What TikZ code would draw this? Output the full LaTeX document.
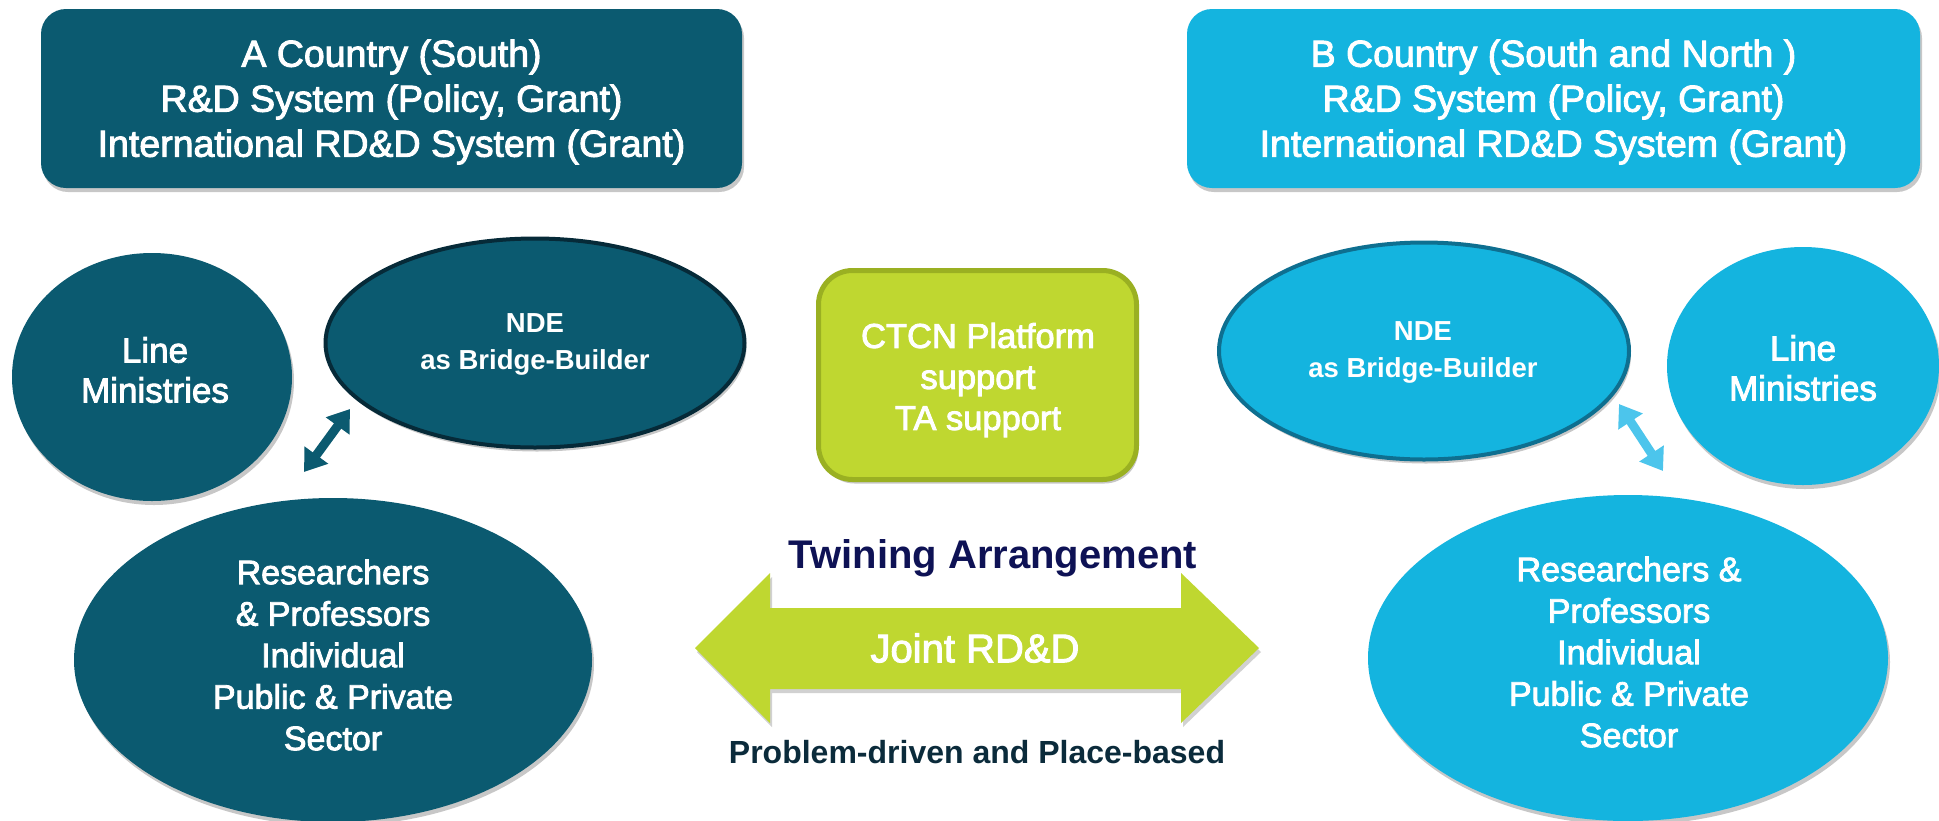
\documentclass[tikz,border=0pt]{standalone}
\usepackage{fontspec}
\setmainfont{Liberation Sans}
\newfontfamily\medfont[FakeBold=2.5]{Liberation Sans}
\usetikzlibrary{arrows.meta,shapes.geometric,shadows}

\definecolor{dteal}{HTML}{0B5A70}
\definecolor{lcyan}{HTML}{14B4DF}
\definecolor{lgreen}{HTML}{BFD730}
\definecolor{dgreen}{HTML}{9AB022}
\definecolor{navy}{HTML}{0E1255}
\definecolor{darktxt}{HTML}{0B2B3B}
\definecolor{ndeA}{HTML}{062A38}
\definecolor{ndeB}{HTML}{0E6F90}
\definecolor{sarrow}{HTML}{4CC5EC}

\begin{document}
\begin{tikzpicture}[x=1pt,y=-1pt,
  shad/.style={drop shadow={shadow xshift=2pt,shadow yshift=-4pt,opacity=0.22,fill=black}},
  topbox/.style={rounded corners=25pt, inner sep=0pt, minimum height=179pt, shad},
  toptext/.style={text=white, align=center, font=\medfont\fontsize{37.5}{45}\selectfont},
  ell/.style={ellipse, inner sep=0pt, shad},
  lmtext/.style={text=white, align=center, font=\medfont\fontsize{35}{40}\selectfont},
  restext/.style={text=white, align=center, font=\medfont\fontsize{34}{41.5}\selectfont},
  ndetext/.style={text=white, align=center, font=\bfseries\fontsize{27.5}{37}\selectfont},
  smallarrow/.style={line width=9pt, {Triangle[width=28pt,length=21pt]}-{Triangle[width=28pt,length=21pt]}}
]
\useasboundingbox (0,0) rectangle (1939,820);
\fill[white] (0,0) rectangle (1939,820);

% top boxes
\node[topbox, fill=dteal, minimum width=701pt] (topA) at (391.5,98.5) {};
\node[toptext] (topAt) at (391.5,102)
  {A Country (South)\\R\&D System (Policy, Grant)\\International RD\&D System (Grant)};
\node[topbox, fill=lcyan, minimum width=733pt] (topB) at (1553.5,98.5) {};
\node[toptext] (topBt) at (1553.5,102)
  {B Country (South and North )\\R\&D System (Policy, Grant)\\International RD\&D System (Grant)};

% left side
\node[ell, fill=dteal, minimum width=280pt, minimum height=248pt] (lmA) at (152,377) {};
\node[lmtext] (lmAt) at (155,370) {Line\\Ministries};
\node[ell, fill=dteal, draw=ndeA, line width=4pt, minimum width=419pt, minimum height=209pt] (ndeA) at (535,343) {};
\node[ndetext] (ndeAt) at (535,344) {NDE\\as Bridge-Builder};
\node[ell, fill=dteal, minimum width=518pt, minimum height=324pt] (resA) at (333,660) {};
\node[restext] (resAt) at (333,655)
  {Researchers\\\& Professors\\Individual\\Public \& Private\\Sector};

% right side
\node[ell, fill=lcyan, draw=ndeB, line width=4pt, minimum width=410pt, minimum height=217pt] (ndeB) at (1424,351) {};
\node[ndetext] (ndeBt) at (1423,352) {NDE\\as Bridge-Builder};
\node[ell, fill=lcyan, minimum width=272pt, minimum height=238pt] (lmB) at (1803,366) {};
\node[lmtext] (lmBt) at (1803,368) {Line\\Ministries};
\node[ell, fill=lcyan, minimum width=520pt, minimum height=326pt] (resB) at (1628,658) {};
\node[restext] (resBt) at (1629,652)
  {Researchers \&\\Professors\\Individual\\Public \& Private\\Sector};

% CTCN box
\node[rounded corners=34pt, fill=lgreen, draw=dgreen, line width=5pt, minimum width=318pt, minimum height=209pt,
  inner sep=0pt, shad] (ctcn) at (977.5,375) {};
\node[text=white, align=center, font=\medfont\fontsize{34.5}{41}\selectfont] (ctcnt) at (978,380)
  {CTCN Platform\\support\\TA support};

% small double arrows
\coordinate (aA1) at (304,472);
\coordinate (aA2) at (350,409);
\draw[smallarrow, dteal] (aA1) -- (aA2);
\coordinate (aB1) at (1619,404);
\coordinate (aB2) at (1663,471);
\draw[smallarrow, sarrow] (aB1) -- (aB2);

% big green double arrow
\coordinate (gL) at (695,648);
\coordinate (gR) at (1259,648);
\fill[lgreen, drop shadow={shadow xshift=2pt,shadow yshift=-4pt,opacity=0.18,fill=black}]
  (gL) -- (770,573) -- (770,608) -- (1181,608) -- (1181,573) -- (gR)
  -- (1181,723) -- (1181,689) -- (770,689) -- (770,723) -- cycle;

\node[text=navy, font=\bfseries\fontsize{40}{44}\selectfont] (twin) at (993,558) {Twining Arrangement};
\node[text=white, font=\medfont\fontsize{40}{44}\selectfont] (joint) at (975,648) {Joint RD\&D};
\node[text=darktxt, font=\bfseries\fontsize{32}{36}\selectfont] (prob) at (977,752) {Problem-driven and Place-based};

\end{tikzpicture}
\end{document}
